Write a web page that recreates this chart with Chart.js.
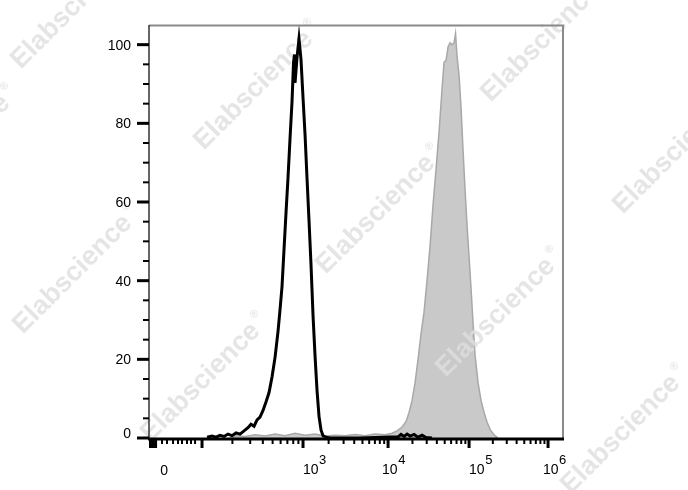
<!DOCTYPE html>
<html>
<head>
<meta charset="utf-8">
<script src="https://cdn.jsdelivr.net/npm/chart.js@4.4.0/dist/chart.umd.min.js"></script>
<style>
    html, body { margin: 0; padding: 0; background: #fff; }
    #wrap { width: 688px; height: 490px; }
</style>
</head>
<body>
<div id="wrap"><canvas id="histChart" width="688" height="490"></canvas></div>
<script>
// x: log10 of fluorescence intensity, y: % of max count
const isotypeLog = [2.050, 2.099, 2.139, 2.178, 2.218, 2.257, 2.297, 2.337, 2.376, 2.416, 2.455, 2.485, 2.515, 2.545,
    2.574, 2.604, 2.634, 2.663, 2.693, 2.723, 2.752, 2.772, 2.792, 2.812, 2.832, 2.851, 2.871, 2.891, 2.906, 2.916,
    2.921, 2.941, 2.960, 2.980, 3.000, 3.024, 3.047, 3.071, 3.094, 3.118, 3.141, 3.165, 3.188, 3.212, 3.235, 3.271,
    3.318, 3.671, 4.123, 4.160, 4.198, 4.235, 4.272, 4.321, 4.370, 4.420, 4.469, 4.543];
const isotypePct = [0.2, 0.5, 0.2, 0.7, 0.4, 1.0, 0.6, 1.3, 1.0, 1.8, 2.6, 3.5, 3.0, 4.6,
    5.3, 7.0, 9.2, 11.5, 15.5, 20.5, 27.0, 32.5, 38.5, 48.0, 57.5, 66.0, 76.0, 85.5, 95.5, 97.5,
    90.3, 96.9, 101.5, 96.2, 86.5, 77.0, 66.0, 55.0, 44.0, 31.0, 21.0, 12.0, 5.5, 2.0, 0.6, 0.2,
    0, 0, 0.3, 0.9, 0.4, 1.0, 0.5, 0.9, 0.2, 0.7, 0.1, 0];

const stainedLog = [2.277, 2.337, 2.426, 2.525, 2.624, 2.723, 2.822, 2.921, 3.024, 3.141, 3.259, 3.376, 3.494, 3.612,
    3.729, 3.847, 3.965, 4.049, 4.111, 4.173, 4.222, 4.259, 4.296, 4.333, 4.370, 4.407, 4.444, 4.481, 4.519, 4.556,
    4.593, 4.630, 4.667, 4.691, 4.716, 4.741, 4.765, 4.790, 4.815, 4.833, 4.852, 4.877, 4.901, 4.926, 4.951, 4.975,
    5.000, 5.025, 5.051, 5.076, 5.114, 5.152, 5.190, 5.228, 5.266, 5.316, 5.367];
const stainedPct = [0, 0.6, 0.4, 0.8, 0.5, 1.0, 0.6, 1.2, 0.7, 1.0, 0.5, 0.7, 0.6, 0.9,
    0.6, 1.0, 0.8, 1.2, 1.8, 2.8, 4.2, 6.5, 9.5, 14.0, 20.0, 26.5, 32.0, 40.0, 49.0, 59.5,
    68.5, 78.0, 89.0, 95.5, 96.0, 99.5, 100.5, 100.0, 100.5, 102.8, 97.0, 92.0, 84.0, 73.0, 63.0, 54.0,
    46.0, 38.0, 29.0, 21.0, 14.0, 9.5, 6.5, 4.0, 2.2, 0.8, 0];

const yTicks = [0, 20, 40, 60, 80, 100];
const xDecades = [3, 4, 5, 6];
const xZero = 1.624;
const xLinearTicks = [1.604, 1.653, 1.713, 1.762, 1.802, 1.851, 1.891, 1.931];
const xBlockTicks = [1.49, 1.515, 1.54];

// biex-like display: decades narrow toward the top end
const knots = [[2, 2], [3, 3], [4, 3.842], [5, 4.644], [6, 5.426]];
function biex(d) {
    if (d <= 2) return d;
    for (let i = 1; i < knots.length; i++) {
        const [d0, u0] = knots[i - 1];
        const [d1, u1] = knots[i];
        if (d <= d1 || i === knots.length - 1) return u0 + (d - d0) * (u1 - u0) / (d1 - d0);
    }
}

function toPoints(xs, ys) {
    return xs.map((x, i) => ({ x: biex(x), y: ys[i] }));
}

const FONT = "'Liberation Sans', Arial, sans-serif";

const watermarkPlugin = {
    id: 'watermark',
    afterDatasetDraw(chart, args) {
        if (args.index !== 1) return;
        const ctx = chart.ctx;
        const spots = [[75, 5], [258, 86], [545, 38], [-45, 150], [77, 270], [380, 210],
            [677, 150], [205, 378], [500, 313], [625, 430]];
        ctx.save();
        ctx.fillStyle = 'rgba(222,222,222,0.8)';
        ctx.textAlign = 'center';
        ctx.textBaseline = 'middle';
        spots.forEach(([cx, cy]) => {
            ctx.save();
            ctx.translate(cx, cy);
            ctx.rotate(-Math.PI / 4);
            ctx.font = 'bold 27px ' + FONT;
            const w = ctx.measureText('Elabscience').width;
            ctx.fillText('Elabscience', -6, 0);
            ctx.font = 'bold 11px ' + FONT;
            ctx.fillText('\u00AE', -6 + w / 2 + 8, -10);
            ctx.restore();
        });
        ctx.restore();
    }
};

const axesPlugin = {
    id: 'flowAxes',
    afterDraw(chart) {
        const ctx = chart.ctx;
        const xs = chart.scales.x;
        const ys = chart.scales.y;
        const a = chart.chartArea;
        ctx.save();

        // frame
        ctx.strokeStyle = '#8a8a8a';
        ctx.lineWidth = 2;
        ctx.beginPath();
        ctx.moveTo(a.left, a.top + 0.5);
        ctx.lineTo(a.right, a.top + 0.5);
        ctx.lineTo(a.right, a.bottom);
        ctx.stroke();
        ctx.strokeStyle = '#333';
        ctx.lineWidth = 1.5;
        ctx.beginPath();
        ctx.moveTo(a.left, a.top);
        ctx.lineTo(a.left, a.bottom + 1);
        ctx.stroke();
        ctx.strokeStyle = '#000';
        ctx.lineWidth = 3;
        ctx.beginPath();
        ctx.moveTo(a.left - 1, a.bottom + 1);
        ctx.lineTo(a.right + 1, a.bottom + 1);
        ctx.stroke();

        // y ticks + labels
        for (let v = 0; v <= 100; v += 5) {
            const y = ys.getPixelForValue(v);
            const major = yTicks.includes(v);
            ctx.lineWidth = major ? 3 : 2;
            ctx.beginPath();
            ctx.moveTo(a.left - (major ? 12 : 6), y);
            ctx.lineTo(a.left, y);
            ctx.stroke();
        }
        ctx.fillStyle = '#000';
        ctx.font = '14px ' + FONT;
        ctx.textAlign = 'right';
        ctx.textBaseline = 'middle';
        yTicks.forEach(v => {
            const y = ys.getPixelForValue(v);
            ctx.fillText(String(v), a.left - 18, v === 0 ? y - 4 : y + 1);
        });

        // x ticks
        const base = a.bottom + 1;
        const xTick = (d, major) => {
            const x = xs.getPixelForValue(biex(d));
            ctx.lineWidth = major ? 3 : 2;
            ctx.beginPath();
            ctx.moveTo(x, base);
            ctx.lineTo(x, base + (major ? 9 : 5));
            ctx.stroke();
        };
        xBlockTicks.forEach(d => xTick(d, true));
        xLinearTicks.forEach(d => xTick(d, false));
        for (let dec = 2; dec <= 6; dec++) {
            xTick(dec, true);
            if (dec < 6) {
                for (let k = 2; k <= 9; k++) xTick(dec + Math.log10(k), false);
            }
        }

        // x labels
        ctx.textAlign = 'center';
        ctx.textBaseline = 'alphabetic';
        ctx.font = '14px ' + FONT;
        ctx.fillText('0', xs.getPixelForValue(biex(xZero)), 475);
        const nudge = { 3: 0, 4: -6, 5: 0, 6: -5 };
        ctx.textAlign = 'left';
        xDecades.forEach(dec => {
            const x = xs.getPixelForValue(biex(dec)) + nudge[dec];
            ctx.font = '14px ' + FONT;
            ctx.fillText('10', x, 474);
            const w = ctx.measureText('10').width;
            ctx.font = '13px ' + FONT;
            ctx.fillText(String(dec), x + w + 0.5, 464);
        });

        ctx.restore();
    }
};

new Chart(document.querySelector('#histChart'), {
    type: 'line',
    data: {
        datasets: [
            {
                label: 'Isotype',
                data: toPoints(isotypeLog, isotypePct),
                borderColor: '#000',
                borderWidth: 3,
                fill: false,
                pointRadius: 0,
                tension: 0
            },
            {
                label: 'Stained',
                data: toPoints(stainedLog, stainedPct),
                borderColor: '#a8a8a8',
                backgroundColor: '#c9c9c9',
                borderWidth: 1.5,
                fill: 'origin',
                pointRadius: 0,
                tension: 0
            }
        ]
    },
    options: {
        responsive: false,
        animation: false,
        events: [],
        layout: { padding: { left: 149, right: 125, top: 25, bottom: 52 } },
        plugins: { legend: { display: false }, tooltip: { enabled: false } },
        scales: {
            x: { type: 'linear', min: 1.475, max: 5.574, display: false },
            y: { min: 0, max: 105, display: false }
        }
    },
    plugins: [watermarkPlugin, axesPlugin]
});
</script>
</body>
</html>
